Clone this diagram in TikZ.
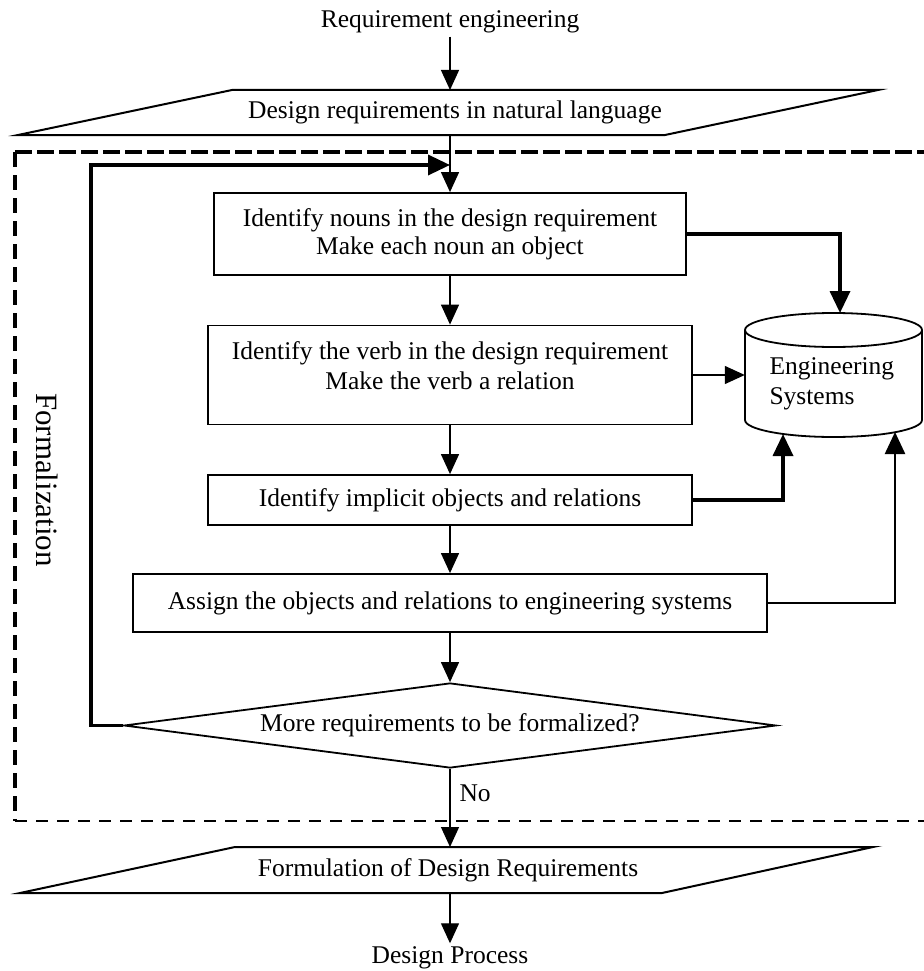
\documentclass[tikz,border=0pt]{standalone}
\usepackage{fontspec}
\setmainfont{Liberation Serif}
\usetikzlibrary{arrows.meta,shapes.geometric}
\begin{document}
\begin{tikzpicture}[x=1pt,y=-1pt,
  every node/.style={font=\fontsize{25.5}{28.5}\selectfont},
  stepbox/.style={draw, line width=1.8pt, inner sep=0pt, align=center},
  flowarrow/.style={line width=1.3pt, -{Triangle[width=18pt,length=20pt]}},
  feedarrow/.style={line width=3.5pt, -{Triangle[width=20pt,length=22pt]}},
  dashframe/.style={line cap=butt},
  iopath/.style={line width=2pt, line join=miter}]
\useasboundingbox (0,0) rectangle (923,971);

% formalization frame
\coordinate (ftl) at (15,152);
\coordinate (fbl) at (15,821);
\draw[dashframe, line width=4.5pt, dash pattern=on 17pt off 5pt] (ftl) -- (925,152);
\draw[dashframe, line width=3.5pt, dash pattern=on 15pt off 8pt] (ftl) -- (fbl);
\draw[dashframe, line width=2.8pt, dash pattern=on 12pt off 9pt] (fbl) -- (925,821);
\node[rotate=-90, font=\fontsize{31}{36}\selectfont] (form) at (47,480) {Formalization};

% input
\node (req) at (450,22) {Requirement engineering};
\draw[iopath] (18,135) -- (232,90) -- (878,90) -- (665,135) -- cycle;
\node (p1) at (455,112) {Design requirements in natural language};
\coordinate (p1n) at (450,90);
\coordinate (p1s) at (450,135);

% steps
\node[stepbox, minimum width=472pt, minimum height=82pt] (b1) at (450,234)
  {Identify nouns in the design requirement\\Make each noun an object};
\node[stepbox, minimum width=484pt, minimum height=99pt] (b2) at (450,375) {};
\node[align=center, font=\fontsize{25.5}{30}\selectfont] (b2t) at (450,366)
  {Identify the verb in the design requirement\\Make the verb a relation};
\node[stepbox, minimum width=484pt, minimum height=50pt] (b3) at (450,500)
  {Identify implicit objects and relations};
\node[stepbox, minimum width=634pt, minimum height=58pt] (b4) at (450,603)
  {Assign the objects and relations to engineering systems};
\node[draw, diamond, aspect=7.67, minimum width=652pt, minimum height=85pt,
  inner sep=0pt, line width=1.8pt] (dia) at (450,725.5)
  {More requirements to be formalized?};

% output
\draw[iopath] (20,893) -- (235,847) -- (873,847) -- (662,893) -- cycle;
\node (p2) at (448,870) {Formulation of Design Requirements};
\coordinate (p2n) at (450,847);
\coordinate (p2s) at (450,893);
\node (dp) at (450,958) {Design Process};

% engineering systems store
\node[minimum width=177pt, minimum height=124pt, inner sep=0pt] (cyl) at (833.5,375) {};
\draw[line width=1.8pt] (745,330) -- (745,420)
  arc[start angle=180, end angle=360, x radius=88.5pt, y radius=17pt] -- (922,330);
\draw[line width=1.8pt] (833.5,330) ellipse [x radius=88.5pt, y radius=17pt];
\node[align=left, anchor=west, font=\fontsize{25.5}{30}\selectfont] (cyltext) at (766,384)
  {Engineering\\Systems};

% main flow
\draw[flowarrow] (req.south) -- (p1n);
\draw[flowarrow] (p1s) -- (b1.north);
\draw[flowarrow] (b1.south) -- (b2.north);
\draw[flowarrow] (b2.south) -- (b3.north);
\draw[flowarrow] (b3.south) -- (b4.north);
\draw[flowarrow] (b4.south) -- (dia.north);
\draw[flowarrow] (dia.south) -- (p2n);
\node[anchor=west] (no) at (456,793) {No};
\draw[flowarrow] (p2s) -- (dp.north);

% loop back
\coordinate (lc) at (91,725.5);
\coordinate (j) at (450,165);
\draw[feedarrow] (dia.west) -- (lc) |- (j);

% links to the store
\coordinate (c1) at (840,313);
\coordinate (c3) at (783,434);
\coordinate (c4) at (895,432);
\draw[feedarrow] (b1.east) -| (c1);
\draw[flowarrow] (b2.east) -- (cyl.west);
\draw[feedarrow] (b3.east) -| (c3);
\draw[feedarrow, line width=2.4pt] (b4.east) -| (c4);
\end{tikzpicture}
\end{document}
